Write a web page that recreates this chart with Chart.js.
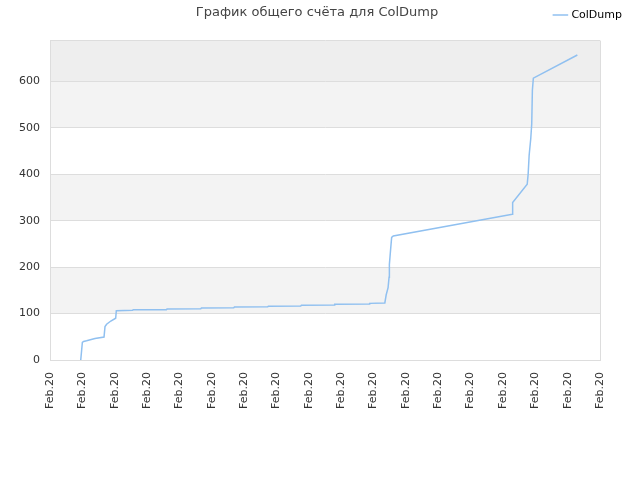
<!DOCTYPE html>
<html>
<head>
<meta charset="utf-8">
<script src="https://cdn.jsdelivr.net/npm/chart.js@4/dist/chart.umd.min.js"></script>
<style>
  html, body { margin: 0; padding: 0; background: #fff; }
  #wrap { width: 640px; height: 480px; }
</style>
</head>
<body>
<div id="wrap"><canvas id="scoreChart"></canvas></div>
<script>
const TITLE = 'График общего счёта для ColDump';
const SERIES_NAME = 'ColDump';
const TICK_LABEL = 'Feb.20';
const TICK_COUNT = 18;

// x: position in tick steps, y: total score
const scoreX = [0.95, 1.00, 1.04, 1.13, 1.39, 1.67, 1.70, 1.75, 1.88, 2.03, 2.05,
  2.55, 2.57, 3.60, 3.62, 4.66, 4.68, 5.68, 5.70, 6.73, 6.75, 7.75, 7.77,
  8.78, 8.80, 9.86, 9.88, 10.35, 10.39, 10.45, 10.48, 10.49, 10.53, 10.56, 10.61,
  14.29, 14.30, 14.75, 14.78, 14.81, 14.86, 14.89, 14.91, 14.94, 16.30];
const scoreY = [0, 38, 40, 41.5, 46.5, 49.5, 72, 77, 84, 90, 106,
  107, 108, 108.5, 110, 110.5, 112, 112.5, 114, 114.5, 116, 116.5, 118,
  118.5, 120, 120.5, 122, 123, 140, 156, 178, 206, 240, 264, 267,
  314, 339, 378.5, 401, 441, 477, 509, 581, 607, 657];

const Y_MAX = 688;
const BAND_COLORS = ['#ffffff', '#f3f3f3', '#ffffff', '#f3f3f3', '#ffffff', '#f3f3f3', '#eeeeee'];

const bandPlugin = {
    id: 'bands',
    afterLayout(chart) {
        // put title and legend on one line, legend near the right edge
        if (chart.titleBlock) {
            chart.titleBlock.top -= 7;
            chart.titleBlock.bottom -= 7;
            chart.titleBlock.left += 17;
            chart.titleBlock.right += 17;
        }
        if (chart.legend) {
            chart.legend.top -= 10;
            chart.legend.bottom -= 10;
            chart.legend.left += 30;
            chart.legend.right += 30;
        }
    },
    beforeDraw(chart) {
        const { ctx, chartArea: a, scales: { y } } = chart;
        ctx.save();
        BAND_COLORS.forEach((color, i) => {
            const lo = i * 100;
            const hi = Math.min((i + 1) * 100, Y_MAX);
            const top = y.getPixelForValue(hi);
            const bottom = y.getPixelForValue(lo);
            ctx.fillStyle = color;
            ctx.fillRect(a.left, top, a.right - a.left, bottom - top);
        });
        ctx.strokeStyle = '#dddddd';
        ctx.lineWidth = 1;
        ctx.beginPath();
        ctx.moveTo(a.right + 0.5, a.top);
        ctx.lineTo(a.right + 0.5, a.bottom);
        ctx.stroke();
        ctx.restore();
    }
};

Chart.defaults.font.family = "'DejaVu Sans', sans-serif";
Chart.defaults.font.size = 11;
Chart.defaults.color = '#444';

new Chart(document.getElementById('scoreChart'), {
    type: 'line',
    data: {
        datasets: [{
            label: SERIES_NAME,
            data: scoreX.map((x, i) => ({ x: x, y: scoreY[i] })),
            borderColor: '#90c0f0',
            backgroundColor: '#90c0f0',
            borderWidth: 1.5,
            pointRadius: 0,
            tension: 0,
            fill: false
        }]
    },
    options: {
        responsive: true,
        maintainAspectRatio: false,
        animation: false,
        layout: { padding: { top: 8, right: 40, left: 0, bottom: 0 } },
        plugins: {
            title: {
                display: true,
                text: TITLE,
                color: '#444',
                font: { size: 13, weight: 'normal' },
                padding: { top: 4, bottom: -16 }
            },
            legend: {
                position: 'top',
                align: 'end',
                labels: {
                    usePointStyle: true,
                    pointStyle: 'line',
                    boxWidth: 11,
                    color: '#000',
                    font: { size: 11 },
                    padding: 8
                }
            },
            tooltip: { enabled: false }
        },
        scales: {
            x: {
                type: 'linear',
                min: 0,
                max: TICK_COUNT - 1,
                afterFit(scale) { scale.height = 120; },
                ticks: {
                    stepSize: 1,
                    minRotation: 90,
                    maxRotation: 90,
                    color: '#333',
                    padding: 12,
                    callback: () => TICK_LABEL
                },
                grid: { display: false, drawTicks: false },
                border: { color: '#dddddd' }
            },
            y: {
                min: 0,
                max: Y_MAX,
                afterFit(scale) { scale.width = 50; },
                ticks: {
                    stepSize: 100,
                    color: '#333',
                    padding: 10,
                    callback: (v) => (v % 100 === 0 ? v : '')
                },
                grid: { color: '#dddddd', drawTicks: false },
                border: { color: '#dddddd' }
            }
        }
    },
    plugins: [bandPlugin]
});
</script>
</body>
</html>
